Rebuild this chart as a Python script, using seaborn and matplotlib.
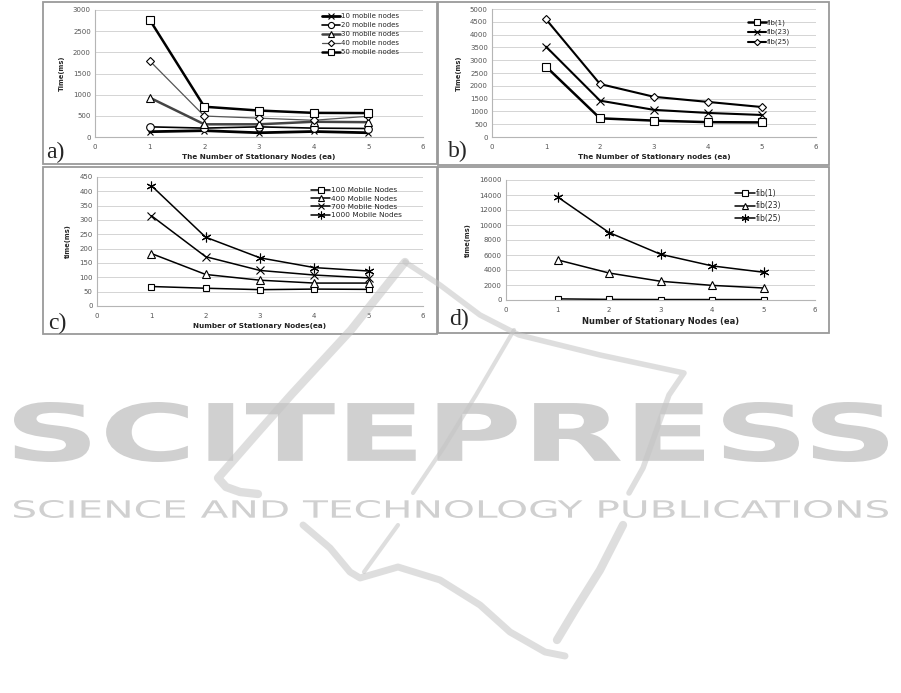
import numpy as np
import pandas as pd
import matplotlib
matplotlib.use("Agg")
import matplotlib.pyplot as plt
import seaborn as sns
from matplotlib.patches import Rectangle, PathPatch
from matplotlib.textpath import TextPath
from matplotlib.font_manager import FontProperties
from matplotlib.transforms import Affine2D

W, H = 901, 693

# ---- data ----
stationary = [1, 2, 3, 4, 5]

# a) mobile nodes, Time(ms)
a_labels = ["10 mobile nodes", "20 mobile nodes", "30 mobile nodes", "40 mobile nodes", "50 mobile nodes"]
a_10 = [125, 150, 100, 130, 100]
a_20 = [240, 210, 240, 210, 200]
a_30 = [930, 300, 300, 360, 350]
a_40 = [1800, 495, 445, 395, 490]
a_50 = [2770, 715, 625, 570, 565]

# b) fib workloads, Time(ms)
b_labels = ["fib(1)", "fib(23)", "fib(25)"]
b_fib1 = [2750, 730, 640, 580, 570]
b_fib23 = [3530, 1420, 1060, 940, 860]
b_fib25 = [4600, 2070, 1570, 1370, 1170]

# c) mobile nodes, time(ms)
c_labels = ["100 Mobile Nodes", "400 Mobile Nodes", "700 Mobile Nodes", "1000 Mobile Nodes"]
c_100 = [68, 62, 57, 59, 58]
c_400 = [183, 110, 90, 80, 80]
c_700 = [315, 172, 124, 108, 98]
c_1000 = [420, 240, 168, 134, 122]

# d) fib workloads, time(ms)
d_labels = ["fib(1)", "fib(23)", "fib(25)"]
d_fib1 = [150, 80, 60, 60, 50]
d_fib23 = [5350, 3600, 2500, 1950, 1600]
d_fib25 = [13750, 9000, 6100, 4550, 3700]

ASTER = (6, 2, 0)


def fig_rect(x0, y0, x1, y1):
    return [x0 / W, 1 - y1 / H, (x1 - x0) / W, (y1 - y0) / H]


def long_frame(labels, series):
    rows = []
    for lab, vals in zip(labels, series):
        for x, v in zip(stationary, vals):
            rows.append({"nodes": x, "time": v, "series": lab})
    return pd.DataFrame(rows)


def draw_panel(fig, box, axbox, df, styles, yticks, ylabel, xlabel, tag, tagpos,
               legpos, leg_fs=5, leg_space=0.35, xlabel_fs=5.2):
    fig.patches.append(Rectangle((box[0] / W, 1 - box[3] / H), (box[2] - box[0]) / W,
                                 (box[3] - box[1]) / H, transform=fig.transFigure,
                                 fill=False, edgecolor="#9a9a9a", lw=1.3, zorder=0))
    ax = fig.add_axes(fig_rect(*axbox))
    for lab, st in styles.items():
        sub = df[df["series"] == lab]
        sns.lineplot(data=sub, x="nodes", y="time", ax=ax, label=lab,
                     color=st.get("color", "black"), lw=st.get("lw", 1.4),
                     marker=st["marker"], markersize=st.get("ms", 5.5),
                     markerfacecolor="white", markeredgecolor="black",
                     markeredgewidth=0.8)
    ax.set_xlim(0, 6)
    ax.set_xticks(range(0, 7))
    ax.set_ylim(yticks[0], yticks[-1])
    ax.set_yticks(yticks)
    ax.grid(axis="y", color="#d4d4d4", lw=0.7)
    ax.grid(axis="x", visible=False)
    ax.set_axisbelow(True)
    for s in ["top", "right"]:
        ax.spines[s].set_visible(False)
    for s in ["left", "bottom"]:
        ax.spines[s].set_color("#b5b5b5")
        ax.spines[s].set_linewidth(0.8)
    ax.tick_params(labelsize=5, colors="#555555", length=2, width=0.6, pad=3)
    ax.tick_params(axis="y", length=0)
    ax.set_ylabel(ylabel, fontsize=4.8, fontweight="bold", labelpad=6)
    ax.set_xlabel(xlabel, fontsize=xlabel_fs, fontweight="bold", color="#222222", labelpad=3)
    ax.legend(loc="upper left", bbox_to_anchor=(legpos[0] / W, 1 - legpos[1] / H),
              bbox_transform=fig.transFigure, frameon=False, fontsize=leg_fs,
              handlelength=2.6, handletextpad=0.1, labelspacing=leg_space,
              borderpad=0, borderaxespad=0, markerscale=0.8)
    fig.text(tagpos[0] / W, 1 - tagpos[1] / H, tag, fontsize=17,
             family="Liberation Serif", ha="left", va="baseline")
    return ax


def fitted_text(ax, s, x0, y0, x1, y1, weight, color):
    tp = TextPath((0, 0), s, size=1, prop=FontProperties(family="DejaVu Sans", weight=weight))
    ext = tp.get_extents()
    sx = (x1 - x0) / ext.width
    sy = (y1 - y0) / ext.height
    tr = Affine2D().translate(-ext.x0, -ext.y0).scale(sx, -sy).translate(x0, y1)
    ax.add_patch(PathPatch(tr.transform_path(tp), color=color, lw=0))


def draw_watermark(fig):
    wm = fig.add_axes([0, 0, 1, 1], zorder=10)
    wm.set_xlim(0, W)
    wm.set_ylim(H, 0)
    wm.axis("off")
    wm.patch.set_alpha(0)
    gray = "#c4c4c4"
    strokes = [
        ([405, 351, 291, 260, 218, 226, 240, 258], [262, 330, 395, 430, 478, 487, 492, 494], 6),
        ([514, 476, 444, 413], [330, 395, 447, 493], 3),
        ([405, 440, 480, 519, 600, 684, 669, 643, 629], [262, 285, 315, 335, 355, 373, 395, 468, 493], 4),
        ([623, 600, 575, 557], [525, 570, 610, 640], 6),
        ([303, 330, 350, 360, 398, 440, 480, 510, 545, 565], [525, 548, 572, 578, 567, 580, 605, 632, 652, 656], 5),
        ([398, 364], [525, 572], 3),
    ]
    for xs, ys, lw in strokes:
        wm.plot(xs, ys, color=gray, lw=lw, alpha=0.55, solid_capstyle="round")
    fitted_text(wm, "SCITEPRESS", 14, 402, 888, 462, "bold", "#d0d0d0")
    fitted_text(wm, "SCIENCE AND TECHNOLOGY PUBLICATIONS", 14, 500, 888, 518, "normal", "#d0d0d0")


def main():
    sns.set_theme(style="white")
    plt.rcParams["font.family"] = ["DejaVu Sans"]
    fig = plt.figure(figsize=(W / 100, H / 100), dpi=100)

    df_a = long_frame(a_labels, [a_10, a_20, a_30, a_40, a_50])
    styles_a = {
        a_labels[0]: dict(marker="x", lw=2.0, ms=5),
        a_labels[1]: dict(marker="o", lw=1.2, ms=5.5),
        a_labels[2]: dict(marker="^", lw=1.8, color="#444444", ms=5.5),
        a_labels[3]: dict(marker="D", lw=0.9, color="#555555", ms=4),
        a_labels[4]: dict(marker="s", lw=1.8, ms=6),
    }
    draw_panel(fig, (43, 2, 437, 164), (95, 10, 423, 137), df_a, styles_a,
               list(range(0, 3001, 500)), "Time(ms)",
               "The Number of Stationary Nodes (ea)", "a)", (46, 158), (322, 13),
               leg_space=0.45)

    df_b = long_frame(b_labels, [b_fib1, b_fib23, b_fib25])
    styles_b = {
        b_labels[0]: dict(marker="s", lw=1.8, ms=6),
        b_labels[1]: dict(marker="x", lw=1.5, ms=6),
        b_labels[2]: dict(marker="D", lw=1.5, ms=4),
    }
    draw_panel(fig, (438, 2, 829, 165), (492, 9, 816, 137), df_b, styles_b,
               list(range(0, 5001, 500)), "Time(ms)",
               "The Number of Stationary nodes (ea)", "b)", (448, 157), (748, 19),
               leg_space=0.5)

    df_c = long_frame(c_labels, [c_100, c_400, c_700, c_1000])
    styles_c = {
        c_labels[0]: dict(marker="s", lw=1.1, ms=5),
        c_labels[1]: dict(marker="^", lw=1.1, ms=5.5),
        c_labels[2]: dict(marker="x", lw=1.1, ms=6),
        c_labels[3]: dict(marker=ASTER, lw=1.1, ms=7),
    }
    draw_panel(fig, (43, 167, 437, 334), (97, 177, 423, 306), df_c, styles_c,
               list(range(0, 451, 50)), "time(ms)",
               "Number of Stationary Nodes(ea)", "c)", (48, 329), (311, 187),
               leg_fs=5.3, leg_space=0.3)

    df_d = long_frame(d_labels, [d_fib1, d_fib23, d_fib25])
    styles_d = {
        d_labels[0]: dict(marker="s", lw=1.1, ms=5),
        d_labels[1]: dict(marker="^", lw=1.1, ms=5.5),
        d_labels[2]: dict(marker=ASTER, lw=1.1, ms=7),
    }
    draw_panel(fig, (438, 167, 829, 333), (506, 180, 815, 300), df_d, styles_d,
               list(range(0, 16001, 2000)), "time(ms)",
               "Number of Stationary Nodes (ea)", "d)", (449, 325), (735, 189),
               leg_fs=5.5, leg_space=0.45, xlabel_fs=6)

    draw_watermark(fig)
    fig.savefig("out.png", dpi=100)


if __name__ == "__main__":
    main()
